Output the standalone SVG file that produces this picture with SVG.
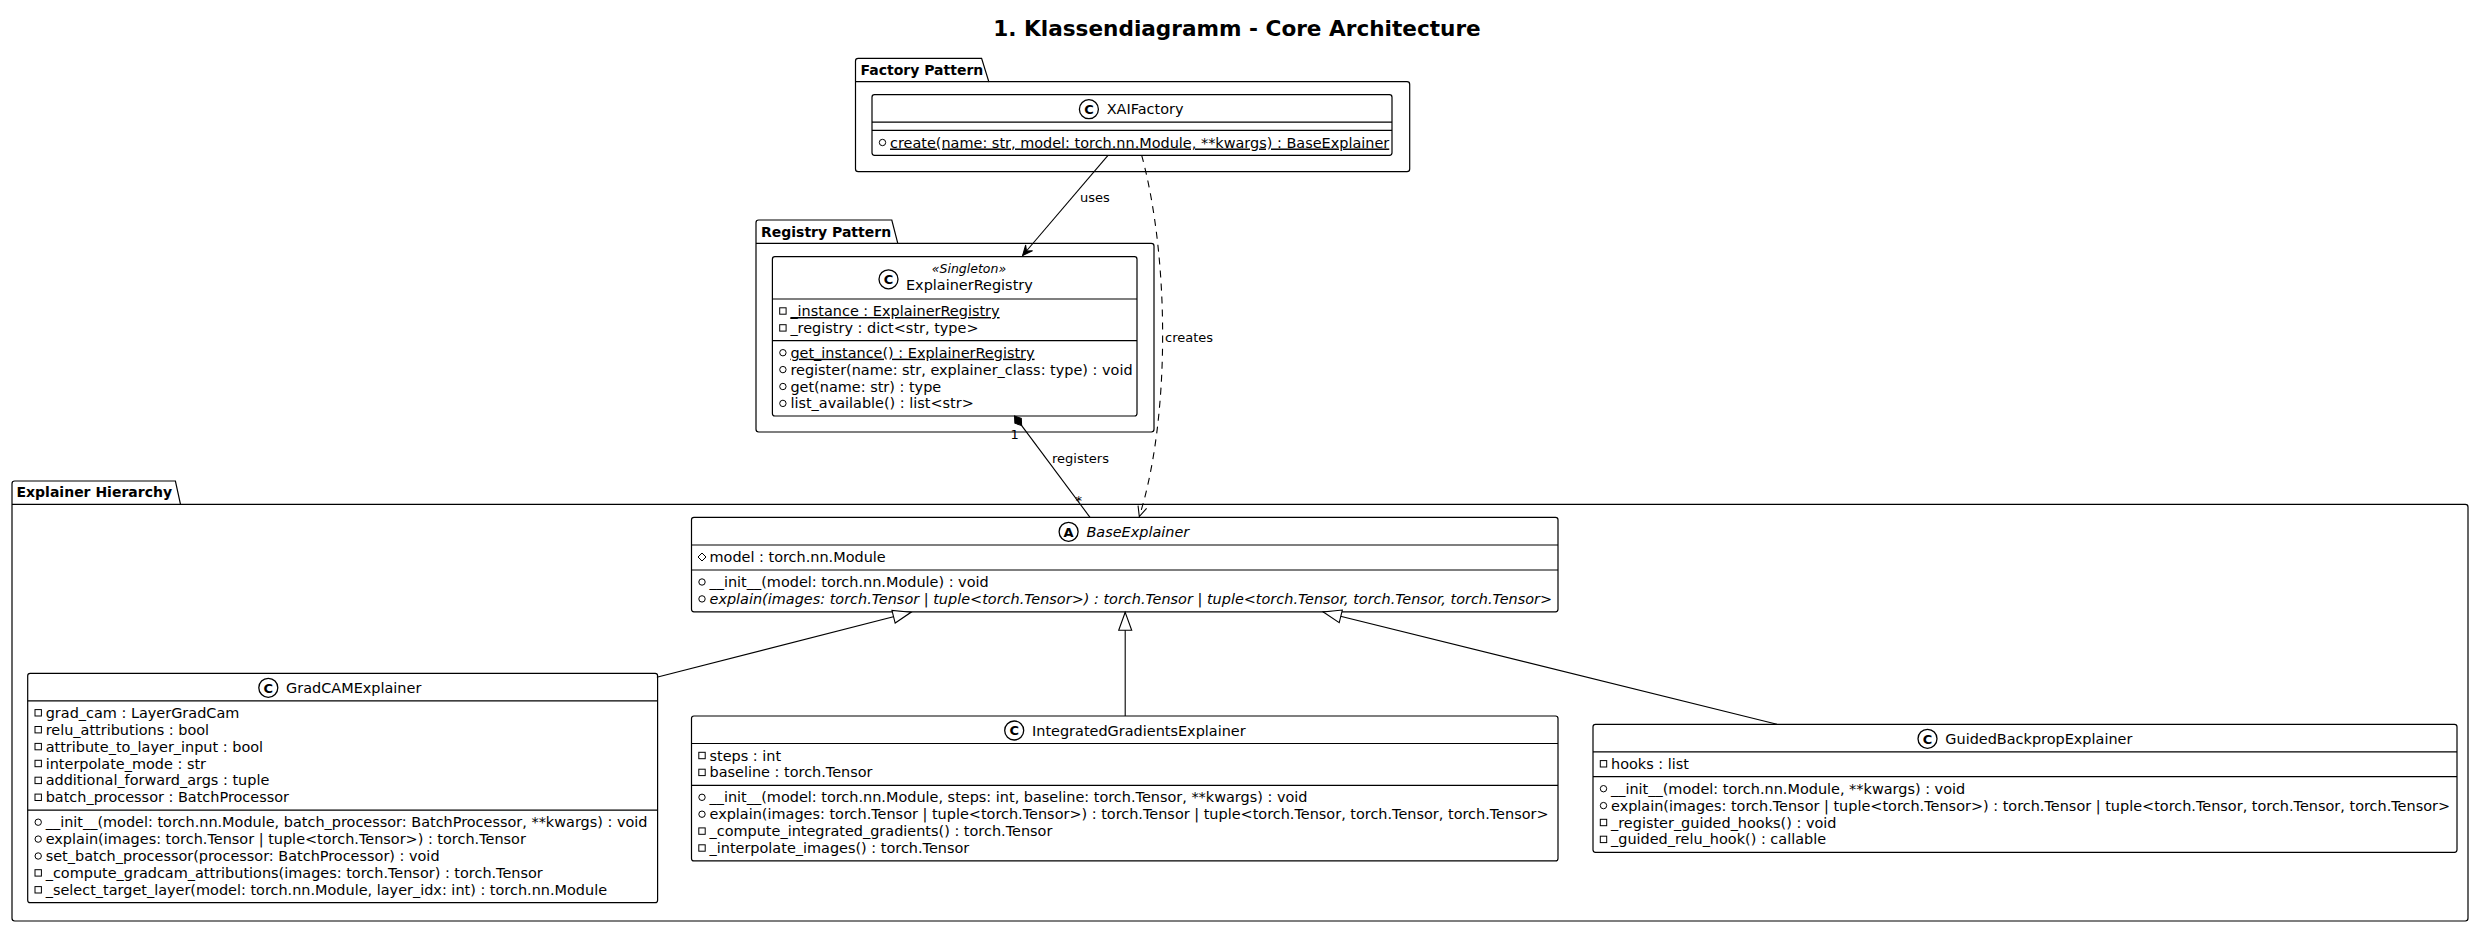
<svg xmlns="http://www.w3.org/2000/svg" width="2481" height="926" viewBox="0 0 2481 926">
<style>
text{font-family:"DejaVu Sans","Liberation Sans",sans-serif;font-size:14.45px;fill:#000}
.title{font-weight:bold;font-size:21.6px;text-anchor:middle}
.pkgt{font-weight:bold;font-size:14px}
.pkg{fill:#fff;stroke:#000;stroke-width:1.2}
.box{fill:#fff;stroke:#000;stroke-width:1.2}
.sep{stroke:#000;stroke-width:1.2}
.ic{fill:none;stroke:#000;stroke-width:1}
.lbl{font-size:13px}
.it{font-style:italic}
.ul{text-decoration:underline}
.cic{fill:#fff;stroke:#000;stroke-width:1.3}
.cl{font-weight:bold;font-size:13px;text-anchor:middle}
.ster{font-style:italic;font-size:12.5px;text-anchor:middle}
.ln{fill:none;stroke:#000;stroke-width:1.1}
.dash{stroke-dasharray:7,6}
</style>
<defs>
<circle id="vpub" r="3.2" class="ic"/>
<rect id="vpriv" x="-3.2" y="-3.2" width="6.4" height="6.4" class="ic"/>
<path id="vprot" d="M0,-4 L4,0 L0,4 L-4,0Z" class="ic"/>
<marker id="afill" markerUnits="userSpaceOnUse" viewBox="-12 -6 14 12" refX="0" refY="0" markerWidth="14" markerHeight="12" orient="auto" overflow="visible">
<path d="M0,0 L-10,-4.5 L-6,0 L-10,4.5Z" fill="#000" stroke="#000" stroke-width="1"/>
</marker>
<marker id="aopen" markerUnits="userSpaceOnUse" viewBox="-12 -6 14 12" refX="0" refY="0" markerWidth="14" markerHeight="12" orient="auto" overflow="visible">
<path d="M-10,-4.5 L0,0 L-10,4.5" fill="none" stroke="#000" stroke-width="1.1"/>
</marker>
<marker id="tri" markerUnits="userSpaceOnUse" viewBox="-20 -8 22 16" refX="0" refY="0" markerWidth="22" markerHeight="16" orient="auto" overflow="visible">
<path d="M0,0 L-18,-6.5 L-18,6.5Z" fill="#fff" stroke="#000" stroke-width="1.1"/>
</marker>
<marker id="dia" markerUnits="userSpaceOnUse" viewBox="-2 -6 16 12" refX="0" refY="0" markerWidth="16" markerHeight="12" orient="auto" overflow="visible">
<path d="M0,0 L6,-4 L12,0 L6,4Z" fill="#000" stroke="#000" stroke-width="1"/>
</marker>
</defs>
<rect width="2481" height="926" fill="#fff"/>
<text class="title" x="1237" y="36">1. Klassendiagramm - Core Architecture</text>

<g id="pkg-factory">
<path class="pkg" d="M855.5,81.7 L855.5,61 Q855.5,58.3 858.2,58.3 L981.6,58.3 L988.8,81.7 L1407,81.7 Q1409.7,81.7 1409.7,84.4 L1409.7,169 Q1409.7,171.7 1407,171.7 L858.2,171.7 Q855.5,171.7 855.5,169 Z"/>
<line class="sep" x1="855.5" y1="81.7" x2="988.8" y2="81.7"/>
<text class="pkgt" x="860.5" y="74.5">Factory Pattern</text>
</g>
<g id="pkg-registry">
<path class="pkg" d="M756,243.3 L756,222.7 Q756,220 758.7,220 L891.8,220 L897.8,243.3 L1151.3,243.3 Q1154,243.3 1154,246 L1154,429.3 Q1154,432 1151.3,432 L758.7,432 Q756,432 756,429.3 Z"/>
<line class="sep" x1="756" y1="243.3" x2="897.8" y2="243.3"/>
<text class="pkgt" x="761" y="236.5">Registry Pattern</text>
</g>
<g id="pkg-hierarchy">
<path class="pkg" d="M12,504.3 L12,483.7 Q12,481 14.7,481 L175.4,481 L180.5,504.3 L2465.3,504.3 Q2468,504.3 2468,507 L2468,918.3 Q2468,921 2465.3,921 L14.7,921 Q12,921 12,918.3 Z"/>
<line class="sep" x1="12" y1="504.3" x2="180.5" y2="504.3"/>
<text class="pkgt" x="16.5" y="497.3">Explainer Hierarchy</text>
</g>

<g id="XAIFactory">
<rect class="box" x="872" y="94.7" width="520" height="60.6" rx="2.5"/>
<line class="sep" x1="872" y1="122.2" x2="1392" y2="122.2"/>
<line class="sep" x1="872" y1="130.3" x2="1392" y2="130.3"/>
<circle class="cic" cx="1088.9" cy="109.2" r="9.5"/><text class="cl" x="1088.9" y="113.9">C</text>
<text x="1106.7" y="114.2">XAIFactory</text>
<use href="#vpub" x="882.5" y="142.5"/>
<text class="ul" x="890" y="147.5">create(name: str, model: torch.nn.Module, **kwargs) : BaseExplainer</text>
</g>

<g id="ExplainerRegistry">
<rect class="box" x="772.4" y="256.7" width="364.6" height="159.3" rx="2.5"/>
<line class="sep" x1="772.4" y1="299" x2="1137" y2="299"/>
<line class="sep" x1="772.4" y1="340.7" x2="1137" y2="340.7"/>
<circle class="cic" cx="888.5" cy="279.3" r="9.5"/><text class="cl" x="888.5" y="284">C</text>
<text class="ster" x="969" y="273.3">«Singleton»</text>
<text x="906" y="290.3">ExplainerRegistry</text>
<use href="#vpriv" x="782.9" y="311"/>
<text class="ul" x="790.4" y="316">_instance : ExplainerRegistry</text>
<use href="#vpriv" x="782.9" y="327.9"/>
<text x="790.4" y="332.9">_registry : dict&lt;str, type&gt;</text>
<use href="#vpub" x="782.9" y="352.7"/>
<text class="ul" x="790.4" y="357.7">get_instance() : ExplainerRegistry</text>
<use href="#vpub" x="782.9" y="369.6"/>
<text x="790.4" y="374.6">register(name: str, explainer_class: type) : void</text>
<use href="#vpub" x="782.9" y="386.5"/>
<text x="790.4" y="391.5">get(name: str) : type</text>
<use href="#vpub" x="782.9" y="403.4"/>
<text x="790.4" y="408.4">list_available() : list&lt;str&gt;</text>
</g>

<g id="BaseExplainer">
<rect class="box" x="691.5" y="517.3" width="866.5" height="94.5" rx="2.5"/>
<line class="sep" x1="691.5" y1="545" x2="1558" y2="545"/>
<line class="sep" x1="691.5" y1="570" x2="1558" y2="570"/>
<circle class="cic" cx="1068.6" cy="531.8" r="9.5"/><text class="cl" x="1068.6" y="536.5">A</text>
<text class="it" x="1086.4" y="536.8">BaseExplainer</text>
<use href="#vprot" x="702" y="557"/>
<text x="709.5" y="562">model : torch.nn.Module</text>
<use href="#vpub" x="702" y="582"/>
<text x="709.5" y="587">__init__(model: torch.nn.Module) : void</text>
<use href="#vpub" x="702" y="598.9"/>
<text class="it" x="709.5" y="603.9">explain(images: torch.Tensor | tuple&lt;torch.Tensor&gt;) : torch.Tensor | tuple&lt;torch.Tensor, torch.Tensor, torch.Tensor&gt;</text>
</g>

<g id="GradCAMExplainer">
<rect class="box" x="27.7" y="673.3" width="629.9" height="229.4" rx="2.5"/>
<line class="sep" x1="27.7" y1="700.8" x2="657.6" y2="700.8"/>
<line class="sep" x1="27.7" y1="810.2" x2="657.6" y2="810.2"/>
<circle class="cic" cx="268.3" cy="687.8" r="9.5"/><text class="cl" x="268.3" y="692.5">C</text>
<text x="286.1" y="692.8">GradCAMExplainer</text>
<use href="#vpriv" x="38.2" y="712.8"/>
<text x="45.7" y="717.8">grad_cam : LayerGradCam</text>
<use href="#vpriv" x="38.2" y="729.7"/>
<text x="45.7" y="734.7">relu_attributions : bool</text>
<use href="#vpriv" x="38.2" y="746.6"/>
<text x="45.7" y="751.6">attribute_to_layer_input : bool</text>
<use href="#vpriv" x="38.2" y="763.5"/>
<text x="45.7" y="768.5">interpolate_mode : str</text>
<use href="#vpriv" x="38.2" y="780.4"/>
<text x="45.7" y="785.4">additional_forward_args : tuple</text>
<use href="#vpriv" x="38.2" y="797.3"/>
<text x="45.7" y="802.3">batch_processor : BatchProcessor</text>
<use href="#vpub" x="38.2" y="822.2"/>
<text x="45.7" y="827.2">__init__(model: torch.nn.Module, batch_processor: BatchProcessor, **kwargs) : void</text>
<use href="#vpub" x="38.2" y="839.1"/>
<text x="45.7" y="844.1">explain(images: torch.Tensor | tuple&lt;torch.Tensor&gt;) : torch.Tensor</text>
<use href="#vpub" x="38.2" y="856"/>
<text x="45.7" y="861">set_batch_processor(processor: BatchProcessor) : void</text>
<use href="#vpriv" x="38.2" y="872.9"/>
<text x="45.7" y="877.9">_compute_gradcam_attributions(images: torch.Tensor) : torch.Tensor</text>
<use href="#vpriv" x="38.2" y="889.8"/>
<text x="45.7" y="894.8">_select_target_layer(model: torch.nn.Module, layer_idx: int) : torch.nn.Module</text>
</g>

<g id="IntegratedGradientsExplainer">
<rect class="box" x="691.5" y="716" width="866.5" height="144.9" rx="2.5"/>
<line class="sep" x1="691.5" y1="743.5" x2="1558" y2="743.5"/>
<line class="sep" x1="691.5" y1="785.3" x2="1558" y2="785.3"/>
<circle class="cic" cx="1014.2" cy="730.5" r="9.5"/><text class="cl" x="1014.2" y="735.2">C</text>
<text x="1032" y="735.5">IntegratedGradientsExplainer</text>
<use href="#vpriv" x="702" y="755.5"/>
<text x="709.5" y="760.5">steps : int</text>
<use href="#vpriv" x="702" y="772.4"/>
<text x="709.5" y="777.4">baseline : torch.Tensor</text>
<use href="#vpub" x="702" y="797.3"/>
<text x="709.5" y="802.3">__init__(model: torch.nn.Module, steps: int, baseline: torch.Tensor, **kwargs) : void</text>
<use href="#vpub" x="702" y="814.2"/>
<text x="709.5" y="819.2">explain(images: torch.Tensor | tuple&lt;torch.Tensor&gt;) : torch.Tensor | tuple&lt;torch.Tensor, torch.Tensor, torch.Tensor&gt;</text>
<use href="#vpriv" x="702" y="831.1"/>
<text x="709.5" y="836.1">_compute_integrated_gradients() : torch.Tensor</text>
<use href="#vpriv" x="702" y="848"/>
<text x="709.5" y="853">_interpolate_images() : torch.Tensor</text>
</g>

<g id="GuidedBackpropExplainer">
<rect class="box" x="1593" y="724.3" width="864" height="128" rx="2.5"/>
<line class="sep" x1="1593" y1="751.8" x2="2457" y2="751.8"/>
<line class="sep" x1="1593" y1="776.7" x2="2457" y2="776.7"/>
<circle class="cic" cx="1927.5" cy="738.8" r="9.5"/><text class="cl" x="1927.5" y="743.5">C</text>
<text x="1945.3" y="743.8">GuidedBackpropExplainer</text>
<use href="#vpriv" x="1603.5" y="763.8"/>
<text x="1611" y="768.8">hooks : list</text>
<use href="#vpub" x="1603.5" y="788.7"/>
<text x="1611" y="793.7">__init__(model: torch.nn.Module, **kwargs) : void</text>
<use href="#vpub" x="1603.5" y="805.6"/>
<text x="1611" y="810.6">explain(images: torch.Tensor | tuple&lt;torch.Tensor&gt;) : torch.Tensor | tuple&lt;torch.Tensor, torch.Tensor, torch.Tensor&gt;</text>
<use href="#vpriv" x="1603.5" y="822.5"/>
<text x="1611" y="827.5">_register_guided_hooks() : void</text>
<use href="#vpriv" x="1603.5" y="839.4"/>
<text x="1611" y="844.4">_guided_relu_hook() : callable</text>
</g>

<g id="connectors">
<line class="ln" x1="1108" y1="155.3" x2="1022.6" y2="255.5" marker-end="url(#afill)"/>
<text class="lbl" x="1080" y="202">uses</text>
<path class="ln dash" d="M1141.7,155.3 C1170,260 1170,420 1139.3,516.5" marker-end="url(#aopen)"/>
<text class="lbl" x="1165" y="341.5">creates</text>
<line class="ln" x1="1014.5" y1="416" x2="1090" y2="517.3" marker-start="url(#dia)"/>
<text class="lbl" x="1052" y="463">registers</text>
<text class="lbl" x="1010.5" y="438.5">1</text>
<text class="lbl" x="1075.5" y="505">*</text>
<line class="ln" x1="656.8" y1="677.3" x2="911" y2="612.3" marker-end="url(#tri)"/>
<line class="ln" x1="1125.2" y1="716" x2="1125.2" y2="612.3" marker-end="url(#tri)"/>
<line class="ln" x1="1777" y1="724.3" x2="1323.3" y2="612" marker-end="url(#tri)"/>
</g>
</svg>
